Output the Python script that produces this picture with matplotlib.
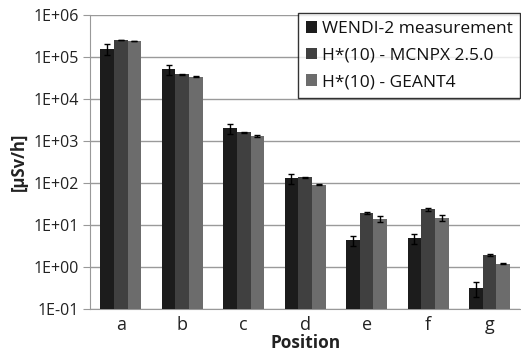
import numpy as np
import matplotlib
matplotlib.use("Agg")
import matplotlib.pyplot as plt

positions = ["a", "b", "c", "d", "e", "f", "g"]
series = ["WENDI-2 measurement", "H*(10) - MCNPX 2.5.0", "H*(10) - GEANT4"]

wendi = [1.55e5, 5.2e4, 2.0e3, 130, 4.3, 4.8, 0.31]
wendi_err = [4.5e4, 1.4e4, 5.0e2, 35, 1.2, 1.3, 0.12]
mcnpx = [2.55e5, 3.9e4, 1.6e3, 138, 19, 23.5, 1.95]
mcnpx_err = [4e3, 1.0e3, 60, 4, 1.0, 2.5, 0.1]
geant = [2.4e5, 3.4e4, 1.3e3, 92, 14, 15, 1.2]
geant_err = [4e3, 1.0e3, 60, 3, 2.0, 2.5, 0.05]

colors = ["#1c1c1c", "#404040", "#6c6c6c"]

plt.rcParams["font.family"] = ["Open Sans", "DejaVu Sans"]

fig = plt.figure(figsize=(5.21, 3.56), dpi=100)
ax = fig.add_axes([0.1727, 0.132, 0.826, 0.826])

x = np.arange(len(positions))
w = 1 / 4.5
for k, (vals, errs) in enumerate(zip([wendi, mcnpx, geant],
                                     [wendi_err, mcnpx_err, geant_err])):
    ax.bar(x + (k - 1) * w, vals, width=w, color=colors[k], label=series[k],
           yerr=errs, error_kw=dict(ecolor="black", elinewidth=1, capsize=2.5,
                                    capthick=1),
           zorder=3)

ax.set_yscale("log")
ax.set_ylim(0.1, 1e6)
ax.set_xlim(-0.5, len(positions) - 0.5)
ax.set_yticks([10.0 ** e for e in range(-1, 7)])
ax.set_yticklabels(["1E-01", "1E+00", "1E+01", "1E+02", "1E+03", "1E+04",
                    "1E+05", "1E+06"])
ax.yaxis.set_minor_locator(matplotlib.ticker.NullLocator())
ax.set_xticks(x)
ax.set_xticklabels(positions)
ax.tick_params(axis="x", length=0, labelsize=13, pad=5, labelcolor="#222222")
ax.tick_params(axis="y", length=5, color="#999999", labelsize=11.5, pad=3,
               labelcolor="#222222")

ax.grid(axis="y", color="#9a9a9a", linewidth=1, zorder=0)
for s in ("top", "right"):
    ax.spines[s].set_visible(False)
for s in ("left", "bottom"):
    ax.spines[s].set_color("#999999")

ax.set_ylabel("[µSv/h]", fontsize=12, fontweight="bold", labelpad=4,
              color="#222222")
ax.set_xlabel("Position", fontsize=12.5, fontweight="bold", labelpad=0,
              color="#222222")

leg = ax.legend(loc="upper right", bbox_to_anchor=(1.0, 1.005), fontsize=12.5,
                frameon=True, fancybox=False, edgecolor="black",
                handlelength=0.65, handleheight=0.65, handletextpad=0.25,
                labelspacing=0.6, borderpad=0.45, borderaxespad=0)
leg.get_frame().set_linewidth(1.0)
for t in leg.get_texts():
    t.set_color("#111111")

fig.savefig("out.png", dpi=100)
